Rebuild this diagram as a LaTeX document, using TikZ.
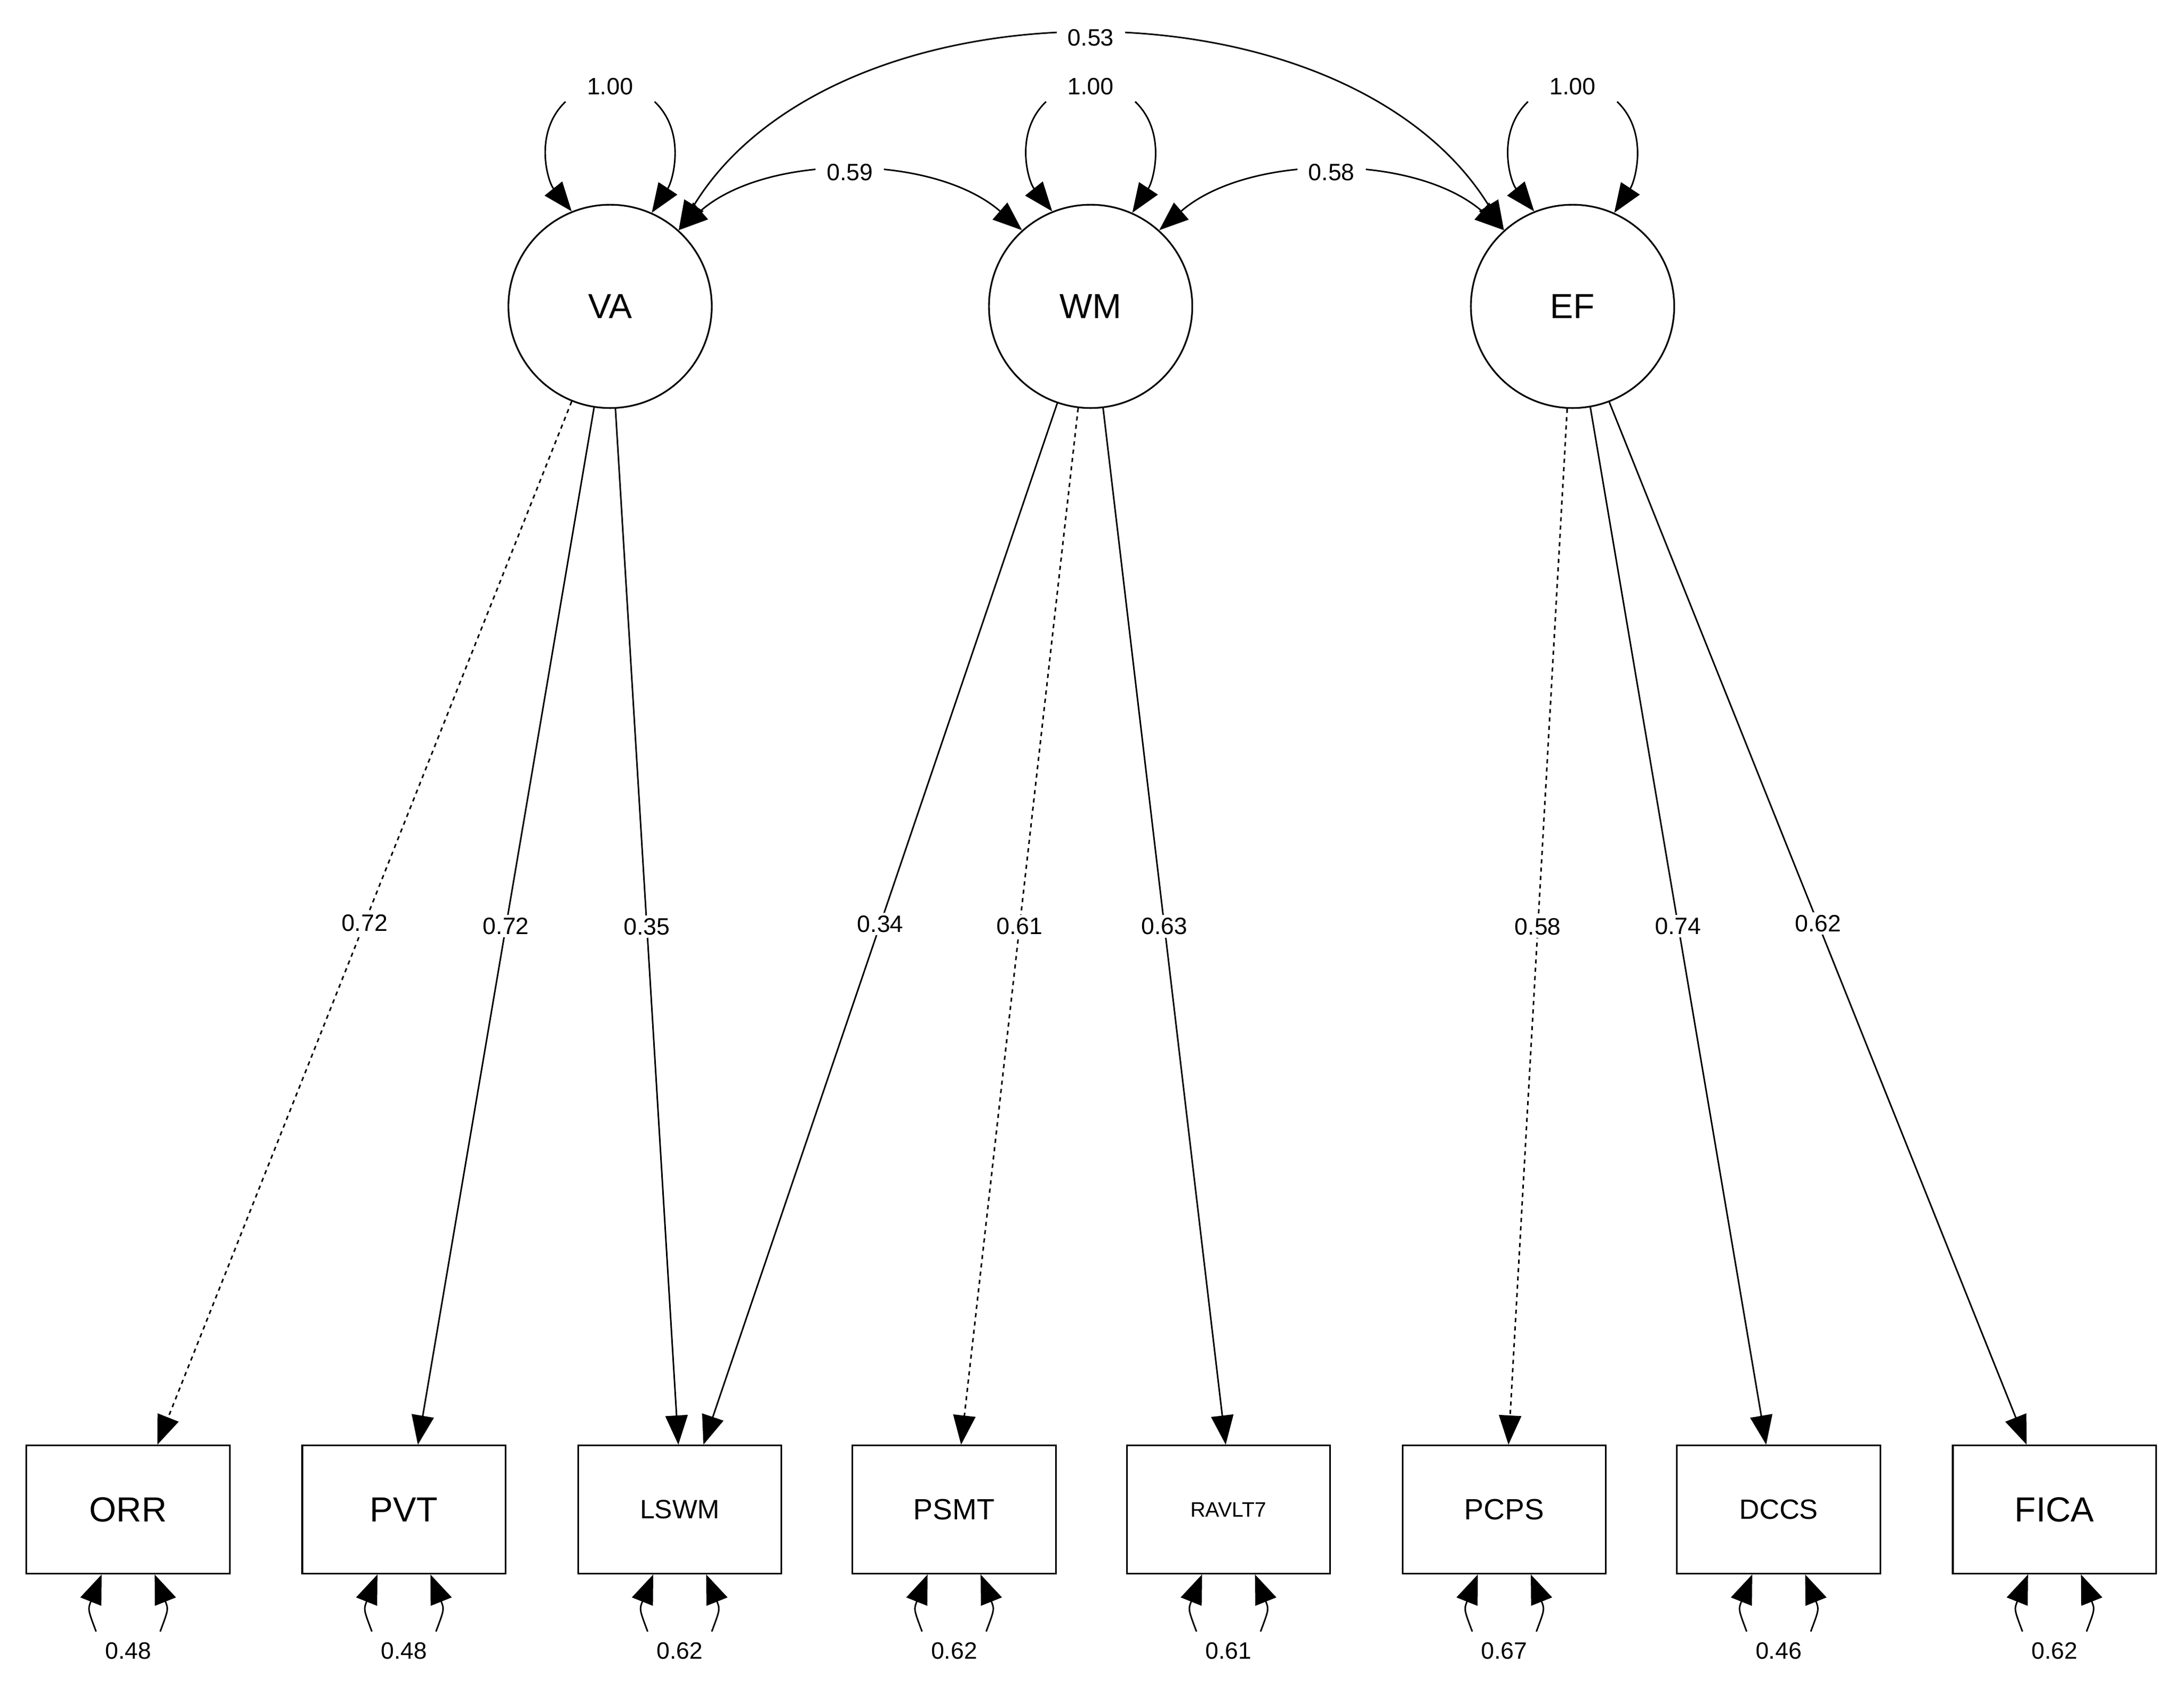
\documentclass[tikz,border=0pt]{standalone}
\usepackage{fontspec}
\setmainfont{Liberation Sans}
\usetikzlibrary{arrows.meta,calc}
\begin{document}
\begin{tikzpicture}[x=1pt,y=-1pt,
  lat/.style={draw,circle,minimum size=146pt,inner sep=0pt,line width=1.2pt,font=\fontsize{25}{25}\selectfont},
  obs/.style={draw,rectangle,minimum width=146pt,minimum height=92pt,inner sep=0pt,line width=1.2pt},
  con/.style={line width=1.1pt,-{Triangle[length=21pt,width=16pt]}},
  lab/.style={fill=white,inner sep=2pt,font=\fontsize{17}{17}\selectfont},
  plain/.style={inner sep=0pt,font=\fontsize{17}{17}\selectfont}]
\useasboundingbox (0,0) rectangle (1568,1207);
\node[lat] (VA) at (438,220) {VA};
\node[lat] (WM) at (783,220) {WM};
\node[lat] (EF) at (1129,220) {EF};
\node[obs,font=\fontsize{25}{25}\selectfont] (ORR) at (92,1084) {ORR};
\node[obs,font=\fontsize{25}{25}\selectfont] (PVT) at (290,1084) {PVT};
\node[obs,font=\fontsize{19}{19}\selectfont] (LSWM) at (488,1084) {LSWM};
\node[obs,font=\fontsize{21}{21}\selectfont] (PSMT) at (685,1084) {PSMT};
\node[obs,font=\fontsize{15}{15}\selectfont] (RAVLT7) at (882,1084) {RAVLT7};
\node[obs,font=\fontsize{21}{21}\selectfont] (PCPS) at (1080,1084) {PCPS};
\node[obs,font=\fontsize{20}{20}\selectfont] (DCCS) at (1277,1084) {DCCS};
\node[obs,font=\fontsize{25}{25}\selectfont] (FICA) at (1475,1084) {FICA};
% loadings
\draw[con,dashed] (VA.-112.6) -- node[lab,pos=0.5]{0.72} ($(ORR.north)+(21,0)$);
\draw[con] (VA.-99.8) -- node[lab,pos=0.5]{0.72} ($(PVT.north)+(10,0)$);
\draw[con] (VA.-87.6) -- node[lab,pos=0.5]{0.35} ($(LSWM.north)+(-1,0)$);
\draw[con] (WM.-109) -- node[lab,pos=0.5]{0.34} ($(LSWM.north)+(17,0)$);
\draw[con,dashed] (WM.-97) -- node[lab,pos=0.5]{0.61} ($(PSMT.north)+(5,0)$);
\draw[con] (WM.-83) -- node[lab,pos=0.5]{0.63} ($(RAVLT7.north)+(-2,0)$);
\draw[con,dashed] (EF.-93) -- node[lab,pos=0.5]{0.58} ($(PCPS.north)+(3,0)$);
\draw[con] (EF.-80) -- node[lab,pos=0.5]{0.74} ($(DCCS.north)+(-9,0)$);
\draw[con] (EF.-69) -- node[lab,pos=0.5]{0.62} ($(FICA.north)+(-20,0)$);
% latent variances
\foreach \n in {VA,WM,EF}{
  \node[plain] (v\n) at ($(\n)+(0,-158)$) {1.00};
  \draw[con] ($(\n)+(-32,-147)$) .. controls ($(\n)+(-55,-125)$) and ($(\n)+(-45,-90)$) .. (\n.112);
  \draw[con] ($(\n)+(32,-147)$) .. controls ($(\n)+(55,-125)$) and ($(\n)+(45,-90)$) .. (\n.66.5);
}
% covariances
\draw[con,{Triangle[length=21pt,width=16pt]}-{Triangle[length=21pt,width=16pt]}] (VA.48) .. controls (550,110) and (670,110) .. node[lab,pos=0.5,inner xsep=8pt]{0.59} (WM.132);
\draw[con,{Triangle[length=21pt,width=16pt]}-{Triangle[length=21pt,width=16pt]}] (WM.48) .. controls (896,110) and (1016,110) .. node[lab,pos=0.5,inner xsep=8pt]{0.58} (EF.132);
\draw[con,{Triangle[length=21pt,width=16pt]}-{Triangle[length=21pt,width=16pt]}] (VA.48) .. controls (600,-19) and (966,-19) .. node[lab,pos=0.5,inner xsep=8pt]{0.53} (EF.132);
% residuals
\foreach \n/\v in {ORR/0.48,PVT/0.48,LSWM/0.62,PSMT/0.62,RAVLT7/0.61,PCPS/0.67,DCCS/0.46,FICA/0.62}{
  \node[plain] (r\n) at ($(\n.south)+(0,55)$) {\v};
  \draw[con] ($(\n.south)+(-23,41)$) .. controls ($(\n.south)+(-29,25)$) .. ($(\n.south)+(-19,0)$);
  \draw[con] ($(\n.south)+(23,41)$) .. controls ($(\n.south)+(29,25)$) .. ($(\n.south)+(19,0)$);
}
\end{tikzpicture}
\end{document}
